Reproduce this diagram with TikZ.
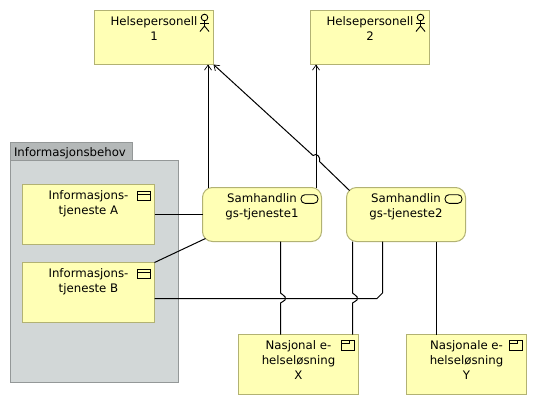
\documentclass[tikz,border=0pt]{standalone}
\usepackage{fontspec}
\setmainfont{DejaVu Sans}
\usetikzlibrary{arrows.meta}
\definecolor{elemfill}{HTML}{FFFFB5}
\definecolor{elemline}{HTML}{B2B273}
\definecolor{pkgfill}{HTML}{D2D7D7}
\definecolor{tabfill}{HTML}{B4B8B8}
\definecolor{pkgline}{HTML}{949898}
\newcommand{\boxtxt}[3]{\parbox[t][#2pt][t]{#1pt}{\centering\fontsize{11.75}{15}\selectfont\rule{0pt}{15.4pt}#3\par}}
\tikzset{
  x=1pt,y=-1pt,
  elem/.style={draw=elemline,fill=elemfill,line width=1pt,inner sep=0pt,outer sep=0pt,anchor=north west},
  rnd/.style={elem,rounded corners=10pt},
  pkg/.style={draw=pkgline,line width=1pt,inner sep=0pt,outer sep=0pt,anchor=north west},
  conn/.style={draw=black,line width=1pt},
  arr/.style={conn,-{Straight Barb[length=5pt,width=7pt,line width=0.7pt]}},
  ico/.style={draw=black,line width=0.9pt},
  actoricon/.pic={
    \draw[ico] (0,-3.5) circle (3.3);
    \draw[ico] (0,0) -- (0,5);
    \draw[ico] (-4.5,2) -- (4.5,2);
    \draw[ico] (-4.5,10.5) -- (0,5) -- (4.5,10.5);
  },
  windowicon/.pic={
    \draw[ico] (0,0) rectangle (13,9.5);
    \draw[ico] (0,3) -- (13,3);
  },
  pillicon/.pic={
    \draw[ico,rounded corners=4pt] (0,0) rectangle (17,8.6);
  },
  compicon/.pic={
    \draw[ico] (0,0) rectangle (13,9.5);
    \draw[ico] (0,2.5) -- (8,2.5) -- (8,0);
  }
}
\begin{document}
\begin{tikzpicture}
\useasboundingbox (0,0) rectangle (537,405);
% package
\node[pkg,fill=pkgfill,minimum width=168pt,minimum height=222pt] (pkgbody) at (10.5,160.5) {};
\node[pkg,fill=tabfill,minimum width=122pt,minimum height=18pt] (pkgtab) at (10.5,142.5) {\parbox[t][18pt][t]{122pt}{\fontsize{11.75}{15}\selectfont\hspace{3.5pt}\rule{0pt}{13.5pt}Informasjonsbehov}};
% elements
\node[elem] (h1) at (94.5,10.5) {\boxtxt{119}{54}{Helsepersonell\\1}};
\node[elem] (h2) at (310.5,10.5) {\boxtxt{119}{54}{Helsepersonell\\2}};
\node[elem] (ia) at (22.5,184.5) {\boxtxt{132}{60}{Informasjons-\\tjeneste A}};
\node[elem] (ib) at (22.5,262.5) {\boxtxt{132}{60}{Informasjons-\\tjeneste B}};
\node[rnd] (s1) at (202.5,187.5) {\boxtxt{119}{54}{Samhandlin\\gs-tjeneste1}};
\node[rnd] (s2) at (346.5,187.5) {\boxtxt{119}{54}{Samhandlin\\gs-tjeneste2}};
\node[elem] (x) at (238.5,334.5) {\boxtxt{120}{60}{Nasjonal e-\\helseløsning\\X}};
\node[elem] (y) at (406.5,334.5) {\boxtxt{120}{60}{Nasjonale e-\\helseløsning\\Y}};
% icons
\pic at (204.5,21) {actoricon};
\pic at (420.5,21) {actoricon};
\pic at (137.5,191) {windowicon};
\pic at (137.5,269) {windowicon};
\pic at (301,194.7) {pillicon};
\pic at (445,194.7) {pillicon};
\pic at (341.7,340.7) {compicon};
\pic at (509.7,340.7) {compicon};
% connectors
\draw[arr] ([xshift=5.5pt]s1.north west) -- ([xshift=-5.5pt]h1.south east);
\draw[arr] ([xshift=-5.5pt]s1.north east) -- ([xshift=5.5pt]h2.south west);
\draw[arr] ([shift={(3,3)}]s2.north west) -- (319.5,161.5)
  .. controls (321,158) and (317,152) .. (313,155.5) -- (h1.south east);
\draw[conn] (ia.east) -- (ia.east -| s1.west);
\draw[conn] (ib.north east) -- ([shift={(3,-3)}]s1.south west);
\draw[conn] ([yshift=-6pt]ib.east) -- (377,298.5) -- (382.5,293) -- ([xshift=-23.5pt]s2.south);
\draw[conn] ([xshift=18.5pt]s1.south) -- (280.5,293) -- (282.5,294.5)
  .. controls (285,296) and (286.5,298) .. (285,300)
  .. controls (284,301.5) and (282,301.5) .. (280.5,303) -- ([xshift=-18pt]x.north);
\draw[conn] ([xshift=-53.5pt]s2.south) -- (352.5,293) -- (354.5,294.5)
  .. controls (357,296) and (358.5,298) .. (357,300)
  .. controls (356,301.5) and (354,301.5) .. (352.5,303) -- ([xshift=54pt]x.north);
\draw[conn] ([xshift=30.5pt]s2.south) -- ([xshift=-30pt]y.north);
\end{tikzpicture}
\end{document}
